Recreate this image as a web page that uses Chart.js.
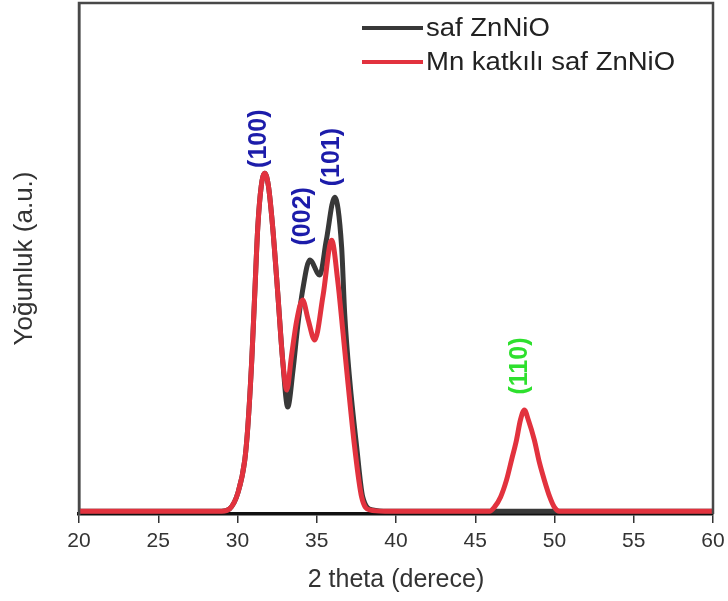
<!DOCTYPE html>
<html>
<head>
<meta charset="utf-8">
<title>XRD ZnNiO</title>
<script src="https://cdn.jsdelivr.net/npm/chart.js@4"></script>
<style>
  html, body { margin: 0; padding: 0; background: #fff; }
  canvas { display: block; }
</style>
</head>
<body>
<canvas id="xrd" width="728" height="601"></canvas>
<script>
// values (2 theta in degrees, intensity in a.u.)
const pureX = [20, 29.0, 29.5, 30.02, 30.46, 30.65, 30.9, 31.09, 31.28, 31.5,
  31.72, 31.95, 32.22, 32.54, 32.85, 33.17, 33.5, 33.8, 34.11, 34.56,
  35.19, 35.6, 36.13, 36.57, 36.76, 37.08, 37.52, 37.9, 38.53, 39.5, 60];
const pureY = [0.8, 0.8, 1.5, 6.1, 15.8, 25.4, 45, 64.6, 83.9, 96,
  99.7, 96, 83.9, 64.6, 45, 31.3, 42, 55, 65.5, 74.3,
  69.9, 80, 92.7, 78.1, 58.8, 39.2, 19.6, 5.0, 1.2, 0.8, 0.8];

const mnX = [20, 29.0, 29.5, 30.02, 30.46, 30.65, 30.9, 31.09, 31.28, 31.5,
  31.72, 31.95, 32.22, 32.54, 32.85, 33.11, 33.4, 33.74, 34.11, 34.45,
  34.87, 35.4, 35.94, 36.32, 36.64, 36.95, 37.39, 37.83, 38.34, 39.3,
  45.9, 46.21, 46.6, 46.97, 47.3, 47.6, 47.85, 48.1, 48.35, 48.73,
  49.05, 49.36, 49.7, 49.99, 50.31, 51.2, 60];
const mnY = [0.8, 0.8, 1.5, 6.1, 15.8, 25.4, 45, 64.6, 83.9, 96,
  99.7, 96, 83.9, 64.6, 45, 36.3, 46, 56.7, 62.6, 57,
  50.9, 64, 80.1, 68.4, 53.8, 39.2, 19.6, 5.0, 1.2, 0.8,
  0.8, 2.0, 5.0, 9.9, 16, 21.6, 27.5, 30.4, 27.5, 21.6,
  15, 9.9, 5, 2.0, 0.8, 0.8, 0.8];

const seriesNames = ['saf ZnNiO', 'Mn katkılı saf ZnNiO'];

// peak indices and where their labels sit (in axis units)
const peakLabels = ['(100)', '(002)', '(101)', '(110)'];
const peakLabelX = [31.34, 34.11, 35.94, 47.85];
const peakLabelY = [109.8, 87.1, 104.4, 43.3];

const xTicks = [20, 25, 30, 35, 40, 45, 50, 55, 60];

const FONT = '"Liberation Sans", Arial, sans-serif';
const peakColors = ['#1c1caa', '#1c1caa', '#1c1caa', '#2ee02e'];

const toPoints = (xs, ys) => xs.map((x, i) => ({ x: x, y: ys[i] }));

// rotated hkl labels above the peaks
const peakLabelPlugin = {
  id: 'peakLabels',
  afterDatasetsDraw(chart) {
    const { ctx, scales } = chart;
    ctx.save();
    ctx.font = 'bold 25px ' + FONT;
    ctx.textAlign = 'center';
    ctx.textBaseline = 'middle';
    peakLabels.forEach((txt, i) => {
      const px = scales.x.getPixelForValue(peakLabelX[i]);
      const py = scales.y.getPixelForValue(peakLabelY[i]);
      ctx.save();
      ctx.translate(px, py);
      ctx.rotate(-Math.PI / 2);
      ctx.fillStyle = peakColors[i];
      ctx.fillText(txt, 0, 0);
      ctx.restore();
    });
    ctx.restore();
  }
};

// frame + legend drawn inside the plot box, top right
const frameLegendPlugin = {
  id: 'frameLegend',
  afterDraw(chart) {
    const { ctx, chartArea } = chart;
    ctx.save();
    ctx.strokeStyle = '#484848';
    ctx.lineWidth = 2.5;
    ctx.beginPath();
    ctx.moveTo(chartArea.left, chartArea.bottom);
    ctx.lineTo(chartArea.left, chartArea.top);
    ctx.lineTo(chartArea.right, chartArea.top);
    ctx.lineTo(chartArea.right, chartArea.bottom);
    ctx.stroke();

    ctx.font = '25px ' + FONT;
    ctx.textBaseline = 'middle';
    ctx.textAlign = 'left';
    // legend rows in data order (black first)
    chart.data.datasets.forEach((ds, i) => {
      const y = 28 + i * 34;
      ctx.strokeStyle = ds.borderColor;
      ctx.lineWidth = 4;
      ctx.beginPath();
      ctx.moveTo(362, y);
      ctx.lineTo(423, y);
      ctx.stroke();
      ctx.save();
      ctx.translate(426, y + 1);
      ctx.scale(1.1, 1);
      ctx.fillStyle = '#222';
      ctx.fillText(ds.label, 0, 0);
      ctx.restore();
    });
    ctx.restore();
  }
};

new Chart(document.getElementById('xrd'), {
  type: 'line',
  data: {
    datasets: [
      {
        label: seriesNames[0],
        data: toPoints(pureX, pureY),
        borderColor: '#383838',
        borderWidth: 5,
        pointRadius: 0,
        cubicInterpolationMode: 'monotone',
        fill: false,
        order: 1
      },
      {
        label: seriesNames[1],
        data: toPoints(mnX, mnY),
        borderColor: '#e2323e',
        borderWidth: 5,
        pointRadius: 0,
        cubicInterpolationMode: 'monotone',
        fill: false,
        order: 0
      }
    ]
  },
  options: {
    responsive: false,
    devicePixelRatio: 1,
    animation: false,
    layout: { padding: { top: 3, right: 15, left: 0, bottom: 0 } },
    plugins: {
      legend: { display: false },
      tooltip: { enabled: false }
    },
    scales: {
      x: {
        type: 'linear',
        min: 20,
        max: 60,
        afterBuildTicks: (scale) => { scale.ticks = xTicks.map(v => ({ value: v })); },
        afterFit: (scale) => {
          scale.height = 87;
          scale.paddingLeft = 0;
          scale.paddingRight = 0;
        },
        ticks: {
          color: '#333',
          padding: 6,
          maxRotation: 0,
          font: { family: FONT, size: 21 }
        },
        grid: {
          drawOnChartArea: false,
          drawTicks: true,
          tickLength: 9,
          color: '#333',
          lineWidth: 1.5
        },
        border: { display: true, color: '#111', width: 3.5 },
        title: {
          display: true,
          text: '2 theta (derece)',
          color: '#333',
          font: { family: FONT, size: 25 },
          padding: { top: 0, bottom: 6 }
        }
      },
      y: {
        min: 0,
        max: 149.5,
        afterFit: (scale) => { scale.width = 79; },
        ticks: { display: false },
        grid: { display: false },
        border: { display: true, color: '#484848', width: 2.5 },
        title: {
          display: true,
          text: 'Yoğunluk (a.u.)',
          color: '#333',
          font: { family: FONT, size: 26 },
          padding: { top: 9, bottom: 0 }
        }
      }
    }
  },
  plugins: [peakLabelPlugin, frameLegendPlugin]
});
</script>
</body>
</html>
